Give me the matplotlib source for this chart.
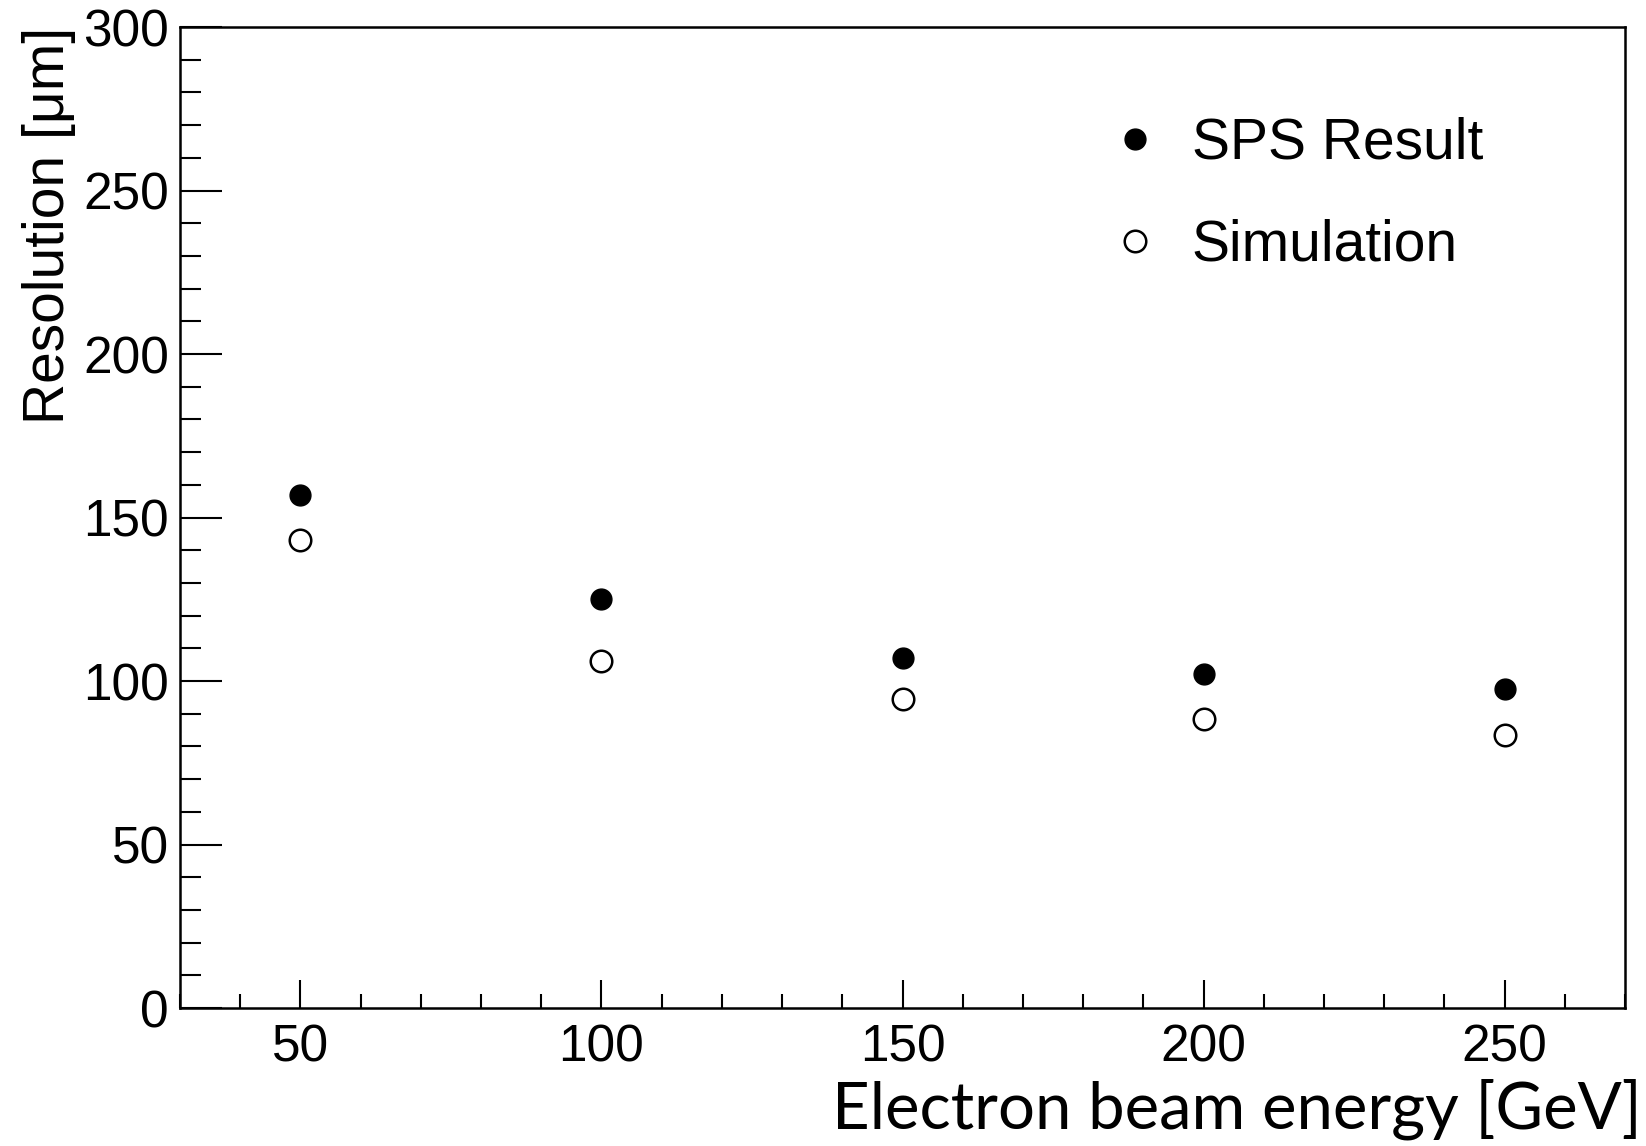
import matplotlib
matplotlib.use("Agg")
import matplotlib.pyplot as plt
from matplotlib.ticker import MultipleLocator

energy = [50, 100, 150, 200, 250]
sps_result = [157, 125, 107, 102, 97.5]
simulation = [143, 106, 94.5, 88.5, 83.5]

plt.rcParams['font.family'] = ['Liberation Sans', 'DejaVu Sans']

fig = plt.figure(figsize=(16.46, 11.46), dpi=100)
ax = fig.add_axes([0.1094, 0.1204, 0.8778, 0.856])

ax.plot(energy, sps_result, 'o', color='black', markersize=15, label='SPS Result')
ax.plot(energy, simulation, 'o', markerfacecolor='white', markeredgecolor='black',
        markeredgewidth=1.8, markersize=15.5, label='Simulation')

ax.set_xlim(30, 270)
ax.set_ylim(0, 300)
ax.xaxis.set_major_locator(MultipleLocator(50))
ax.xaxis.set_minor_locator(MultipleLocator(10))
ax.yaxis.set_major_locator(MultipleLocator(50))
ax.yaxis.set_minor_locator(MultipleLocator(10))

for s in ax.spines.values():
    s.set_linewidth(1.8)
ax.tick_params(axis='both', which='both', direction='in', width=1.5, labelsize=37)
ax.tick_params(axis='y', which='major', length=30, pad=8)
ax.tick_params(axis='y', which='minor', length=15)
ax.tick_params(axis='x', which='major', length=20, pad=11)
ax.tick_params(axis='x', which='minor', length=10)

ax.set_xlabel('Electron beam energy [GeV]', fontsize=47, family=['Lato', 'DejaVu Sans'], loc='right')
ax.xaxis.set_label_coords(1.0116, -0.072)
ax.set_ylabel('Resolution [μm]', fontsize=41, loc='top')
ax.yaxis.set_label_coords(-0.072, 1.0)

ax.legend(loc='upper left', bbox_to_anchor=(0.641, 0.9085), frameon=False, fontsize=41,
          handlelength=1.0, handletextpad=0.5, labelspacing=0.84, borderpad=0, borderaxespad=0)

fig.savefig('out.png', dpi=100)
